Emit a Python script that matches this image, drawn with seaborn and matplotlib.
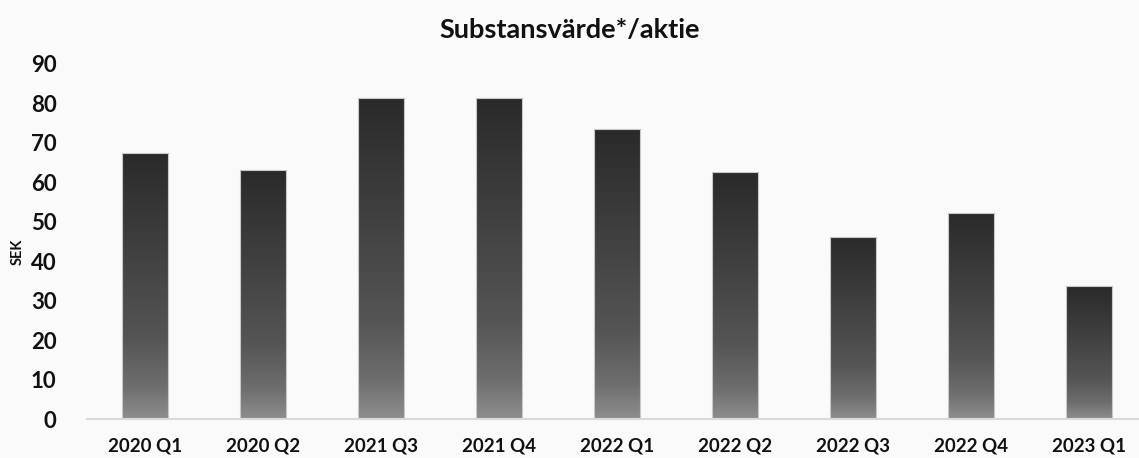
import numpy as np
import pandas as pd
import matplotlib
matplotlib.use("Agg")
import matplotlib.pyplot as plt
from matplotlib.colors import LinearSegmentedColormap
import seaborn as sns

# ==========================================
# DATA
# ==========================================
quarters = ["2020 Q1", "2020 Q2", "2021 Q3", "2021 Q4", "2022 Q1",
            "2022 Q2", "2022 Q3", "2022 Q4", "2023 Q1"]
nav_per_share = [67.5, 63.2, 81.5, 81.5, 73.5, 62.6, 46.2, 52.3, 33.6]
y_ticks = [0, 10, 20, 30, 40, 50, 60, 70, 80, 90]

df = pd.DataFrame({"quarter": quarters, "sek": nav_per_share})

# ==========================================
# STYLE
# ==========================================
sns.set_style("white")
plt.rcParams["font.family"] = ["Lato", "DejaVu Sans"]
bg = "#fafafa"

fig = plt.figure(figsize=(11.39, 4.58), dpi=100, facecolor=bg)
ax = fig.add_axes([87 / 1139, 1 - 419 / 458, 1 - 87 / 1139, (419 - 64) / 458])
ax.set_facecolor(bg)

sns.barplot(data=df, x="quarter", y="sek", color="#444444", width=0.39,
            edgecolor="#c8c8c8", linewidth=0.8, ax=ax)

# gradient fill: dark at top, lighter towards the base
grad_cmap = LinearSegmentedColormap.from_list(
    "bar_grad",
    [(0.0, "#8e8e8e"), (0.12, "#6e6e6e"), (0.3, "#555555"),
     (0.6, "#424242"), (1.0, "#2a2a2a")])
grad = np.linspace(0, 1, 256).reshape(-1, 1)
for patch in ax.patches:
    x0, y0 = patch.get_x(), patch.get_y()
    w, h = patch.get_width(), patch.get_height()
    patch.set_facecolor("none")
    img = ax.imshow(grad, extent=[x0, x0 + w, y0, y0 + h], origin="lower",
                    aspect="auto", cmap=grad_cmap, zorder=patch.get_zorder() - 0.1)
    img.set_clip_path(patch)

ax.set_xlim(-0.49, 8.425)
ax.set_ylim(0, 90)
ax.set_yticks(y_ticks)

for side in ["top", "right", "left"]:
    ax.spines[side].set_visible(False)
ax.spines["bottom"].set_color("#d9d9d9")
ax.spines["bottom"].set_linewidth(1.5)

ax.tick_params(axis="both", length=0)
ax.tick_params(axis="y", labelsize=16, pad=22, labelcolor="#111111")
ax.tick_params(axis="x", labelsize=13.5, pad=13, labelcolor="#111111")
for lbl in ax.get_xticklabels() + ax.get_yticklabels():
    lbl.set_fontweight("bold")

ax.set_xlabel("")
ax.set_ylabel("SEK", fontsize=10.5, fontweight="bold", color="#111111")
ax.yaxis.set_label_coords(-62 / 1052, 0.47)

fig.text(0.5, 1 - 30 / 458, "Substansvärde*/aktie", ha="center", va="center",
         fontsize=19.5, fontweight="bold", color="#111111")

plt.savefig("out.png", dpi=100, facecolor=bg)
